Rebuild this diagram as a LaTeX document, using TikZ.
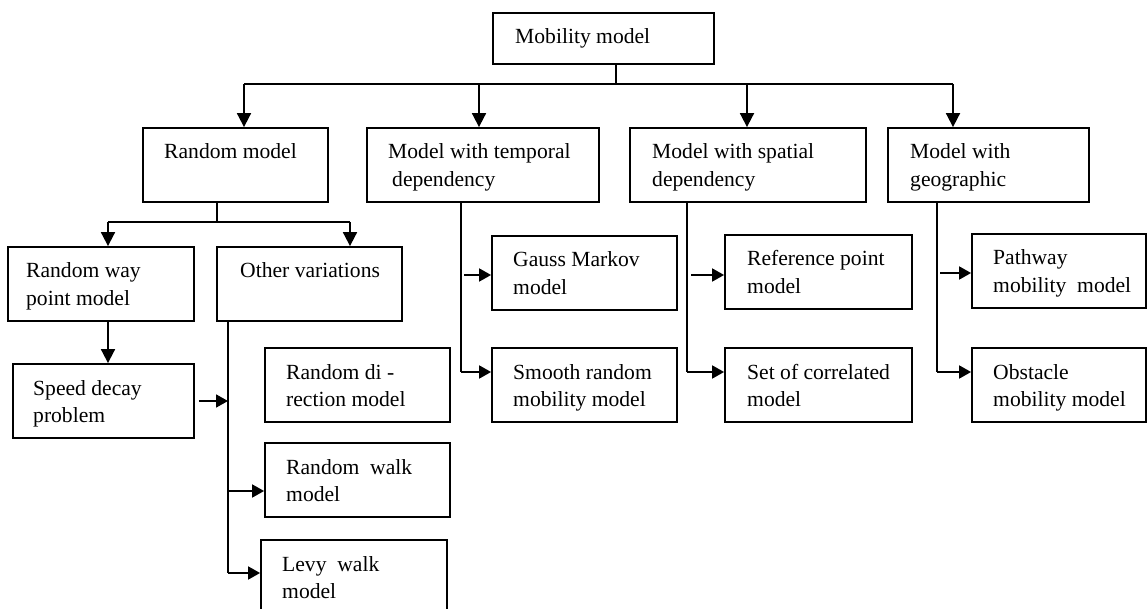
\documentclass[tikz,border=0pt]{standalone}
\usepackage{fontspec}
\setmainfont{Liberation Serif}
\usetikzlibrary{arrows.meta,calc}
\newcommand\twol[2]{\vtop{\hbox{#1}\hbox{#2}}}
\newcommand\bxn[7]{%
  \node[bx, minimum width={#4pt-#2pt}, minimum height={#5pt-#3pt}] (#1) at ({(#2+#4)/2},{(#3+#5)/2}) {};
  \node[lab] (#1-t) at ({#2+#6},{#3+31}) {#7};}
\begin{document}
\begin{tikzpicture}[x=1pt,y=-1pt,
  bx/.style={draw, line width=1.8pt, inner sep=0pt},
  lab/.style={anchor=base west, inner sep=0pt, font=\fontsize{21.6}{27.5}\selectfont},
  ln/.style={line width=1.8pt},
  arr/.style={line width=1.8pt, -{Triangle[length=14pt,width=14pt]}},
  harr/.style={line width=1.8pt, -{Triangle[length=12pt,width=13pt]}}]
\useasboundingbox (0,0) rectangle (1148,609);
\clip (0,0) rectangle (1148,609);
\bxn{mob}{493}{13}{714}{64}{22}{Mobility model}
\bxn{rnd}{143}{128}{328}{202}{21}{Random model}
\bxn{tmp}{367}{128}{599}{202}{21}{\twol{Model with temporal}{\hspace*{4pt}dependency}}
\bxn{spa}{630}{128}{866}{202}{22}{\twol{Model with spatial}{dependency}}
\bxn{geo}{888}{128}{1089}{202}{22}{\twol{Model with}{geographic}}
\bxn{rwp}{8}{247}{194}{321}{18}{\twol{Random way}{point model}}
\bxn{oth}{217}{247}{402}{321}{23}{Other variations}
\bxn{spd}{13}{364}{194}{438}{20}{\twol{Speed decay}{problem}}
\bxn{rdi}{265}{348}{450}{422}{21}{\twol{Random di -}{rection model}}
\bxn{rwk}{265}{443}{450}{517}{21}{\twol{Random\ \ walk}{model}}
\bxn{lvy}{261}{540}{447}{625}{21}{\twol{Levy\ \ walk}{model}}
\bxn{gau}{492}{236}{677}{310}{21}{\twol{Gauss Markov}{model}}
\bxn{smo}{492}{348}{677}{422}{21}{\twol{Smooth random}{mobility model}}
\bxn{ref}{725}{235}{912}{309}{22}{\twol{Reference point}{model}}
\bxn{cor}{725}{348}{912}{422}{22}{\twol{Set of correlated}{model}}
\bxn{pat}{972}{234}{1146}{308}{21}{\twol{Pathway}{mobility\ \ model}}
\bxn{obs}{972}{348}{1146}{422}{21}{\twol{Obstacle}{mobility model}}
% top bus
\coordinate (busM) at (615.7,84);
\coordinate (busL) at (244,84);
\coordinate (busT) at (479,84);
\coordinate (busS) at (747,84);
\coordinate (busR) at (953,84);
\draw[ln] (busM |- mob.south) -- (busM);
\draw[ln] (busL) -- (busR);
\draw[arr] (busL) -- (busL |- rnd.north);
\draw[arr] (busT) -- (busT |- tmp.north);
\draw[arr] (busS) -- (busS |- spa.north);
\draw[arr] (busR) -- (busR |- geo.north);
% random model
\coordinate (rbM) at (217,222);
\coordinate (rbL) at (108,222);
\coordinate (rbR) at (350,222);
\draw[ln] (rbM |- rnd.south) -- (rbM);
\draw[ln] (rbL) -- (rbR);
\draw[arr] (rbL) -- (rbL |- rwp.north);
\draw[arr] (rbR) -- (rbR |- oth.north);
\draw[arr] (rbL |- rwp.south) -- (rbL |- spd.north);
% other variations trunk
\coordinate (otB) at (228,573);
\coordinate (otW) at (228,491);
\draw[ln] (otB |- oth.south) -- (otB);
\draw[harr] (otB) -- (otB -| lvy.west);
\draw[harr] (otW) -- (otW -| rwk.west);
\draw[harr] ([xshift=4pt]spd.east) -- (spd.east -| otB);
% temporal
\coordinate (tmB) at (461,372);
\coordinate (tmG) at (464,275);
\draw[ln] (tmB |- tmp.south) -- (tmB);
\draw[harr] (tmB) -- (tmB -| smo.west);
\draw[harr] (tmG) -- (tmG -| gau.west);
% spatial
\coordinate (spB) at (687,372);
\coordinate (spG) at (691,275);
\draw[ln] (spB |- spa.south) -- (spB);
\draw[harr] (spB) -- (spB -| cor.west);
\draw[harr] (spG) -- (spG -| ref.west);
% geographic
\coordinate (gB) at (937,372);
\coordinate (gG) at (940,273);
\draw[ln] (gB |- geo.south) -- (gB);
\draw[harr] (gB) -- (gB -| obs.west);
\draw[harr] (gG) -- (gG -| pat.west);
\end{tikzpicture}
\end{document}
